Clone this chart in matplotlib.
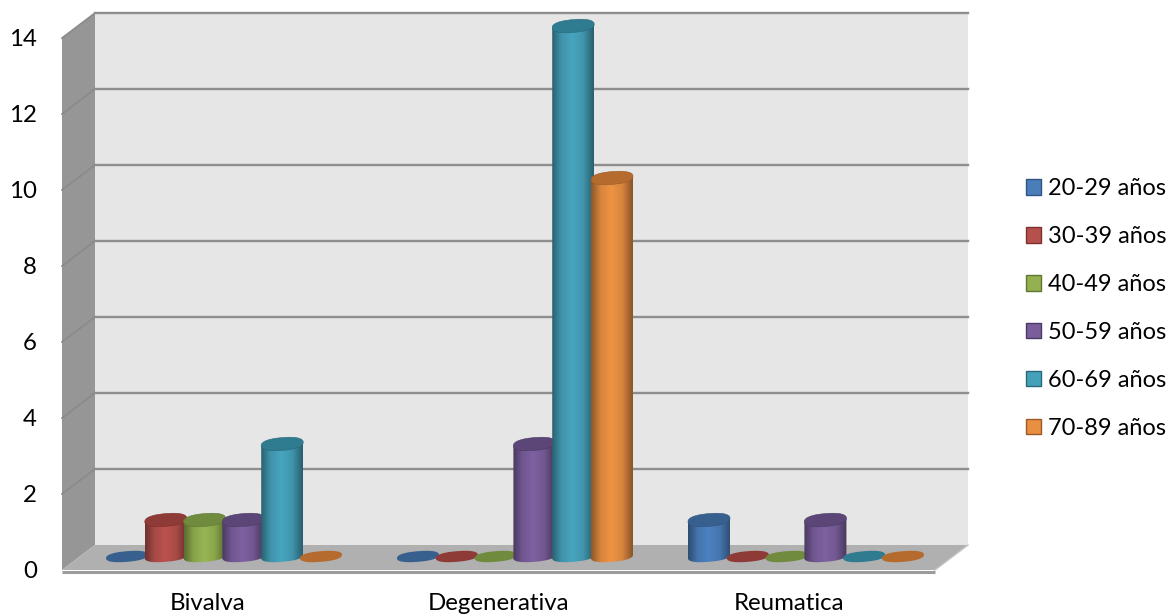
import numpy as np
import matplotlib
matplotlib.use('Agg')
import matplotlib.pyplot as plt
from matplotlib.patches import Polygon, Patch

plt.rcParams['font.family'] = ['Lato', 'DejaVu Sans']

categories = ['Bivalva', 'Degenerativa', 'Reumatica']
age_groups = ['20-29 años', '30-39 años', '40-49 años', '50-59 años', '60-69 años', '70-89 años']
values_20_29 = [0, 0, 1]
values_30_39 = [1, 0, 0]
values_40_49 = [1, 0, 0]
values_50_59 = [1, 3, 1]
values_60_69 = [3, 14, 0]
values_70_89 = [0, 10, 0]
series = [values_20_29, values_30_39, values_40_49, values_50_59, values_60_69, values_70_89]
y_ticks = [0, 2, 4, 6, 8, 10, 12, 14]

body_colors = ['#4A7EBB', '#B5504C', '#93B150', '#7A5E9C', '#45A0B9', '#E88F42']
top_colors = ['#38608F', '#8E3A37', '#708A3E', '#5B4677', '#2F7C91', '#B56B2E']
edge_colors = ['#2F5583', '#7F302E', '#5F7733', '#4C3A66', '#27697B', '#9B5A26']

W, H = 1170, 614
fig = plt.figure(figsize=(W/100, H/100), dpi=100)
ax = fig.add_axes([62/W, 1-570/H, 873/W, 532/H])

# one category is 291 px wide, one y unit 38 px high
px_x = 3/873
px_y = 14/532
depth_x = 33*px_x
depth_y = 25*px_y
lift_base = 13.5*px_y
lift_top = 12*px_y
slot = 38.8*px_x
half_w = 21*px_x
tilt = 1.7


def ellipse_xy(cx, cy, b, n=90):
    # slightly squared ellipse, raised towards the right like a circle seen at an angle
    t = np.linspace(0, 2*np.pi, n)
    ex = np.sign(np.cos(t))*np.abs(np.cos(t))**0.85
    ey = np.sign(np.sin(t))*np.abs(np.sin(t))**0.85
    return np.column_stack([cx + half_w*ex, cy + (b*ey + tilt*ex)*px_y])


def shaded(color):
    rgb = np.array(matplotlib.colors.to_rgb(color))
    u = np.linspace(0, 1, 64)
    f = np.interp(u, [0, 0.08, 0.22, 0.48, 0.75, 0.92, 1], [0.62, 0.72, 0.92, 1.03, 0.93, 0.7, 0.6])
    return np.clip(rgb[None, :]*f[:, None], 0, 1)[None, :, :]


# walls and floor of the box
ax.add_patch(Polygon([(0, 0), (depth_x, depth_y), (depth_x, 14+depth_y), (0, 14)],
                     fc='#969696', ec='none', clip_on=False, zorder=1))
ax.add_patch(Polygon([(depth_x, depth_y), (3+depth_x, depth_y), (3+depth_x, 14+depth_y), (depth_x, 14+depth_y)],
                     fc='#E6E6E6', ec='none', clip_on=False, zorder=1))
ax.add_patch(Polygon([(0, 0), (3, 0), (3+depth_x, depth_y), (depth_x, depth_y)],
                     fc='#B0B0B0', ec='none', clip_on=False, zorder=2))
ax.plot([0, 3], [-1.5*px_y, -1.5*px_y], color='#9C9C9C', lw=2.2, clip_on=False, zorder=2, solid_capstyle='butt')
ax.plot([3, 3+depth_x], [0, depth_y], color='#C4C4C4', lw=1, clip_on=False, zorder=2)

# gridlines run along the back wall and down the side wall
for v in y_ticks[1:]:
    ax.plot([0, depth_x], [v, v+depth_y], color='#8A8A8A', lw=1.2, clip_on=False, zorder=3)
    ax.plot([depth_x, 3+depth_x], [v+depth_y, v+depth_y], color='#8E8E8E', lw=1.7, clip_on=False, zorder=3)

# cylinders, each series in front of the one before it
z = 10
for c in range(len(categories)):
    centre = c + 0.5 + depth_x/2
    for s, vals in enumerate(series):
        cx = centre + (s - 2.5)*slot
        v = vals[c]
        if v == 0:
            ax.add_patch(Polygon(ellipse_xy(cx, lift_base, 5.3), fc=top_colors[s],
                                 ec='none', clip_on=False, zorder=z))
        else:
            base = ellipse_xy(cx, lift_base, 5.3)
            # lower half of the base, left to right, then straight up to the top ellipse
            lower = base[45:90]
            outline = np.vstack([lower, [[cx+half_w, v+lift_top+tilt*px_y]], [[cx-half_w, v+lift_top-tilt*px_y]]])
            clip = Polygon(outline, transform=ax.transData)
            im = ax.imshow(shaded(body_colors[s]), extent=[cx-half_w, cx+half_w, 0, v+lift_top+0.3],
                           aspect='auto', interpolation='bilinear', zorder=z)
            im.set_clip_box(fig.bbox)
            im.set_clip_path(clip)
            ax.add_patch(Polygon(ellipse_xy(cx, v+lift_top, 6.4), fc=top_colors[s], ec=edge_colors[s],
                                 lw=0.4, clip_on=False, zorder=z+0.5))
        z += 1

ax.set_xlim(0, 3)
ax.set_ylim(0, 14)
ax.set_xticks([0.5, 1.5, 2.5])
ax.set_xticklabels(categories, fontsize=17.3)
ax.set_yticks(y_ticks)
ax.tick_params(axis='both', length=0, labelsize=17.3, colors='black')
ax.tick_params(axis='y', pad=18)
ax.tick_params(axis='x', pad=16.5)
for side in ax.spines:
    ax.spines[side].set_visible(False)
ax.patch.set_visible(False)

handles = [Patch(facecolor=body_colors[i], edgecolor=edge_colors[i], linewidth=1.0) for i in range(6)]
fig.legend(handles, age_groups, loc='center left', bbox_to_anchor=(1026/W, 1-308.5/H), frameon=False,
           fontsize=17, handlelength=0.635, handleheight=0.635, handletextpad=0.3,
           labelspacing=1.14, borderpad=0, borderaxespad=0)

plt.savefig('out.png', dpi=100)
